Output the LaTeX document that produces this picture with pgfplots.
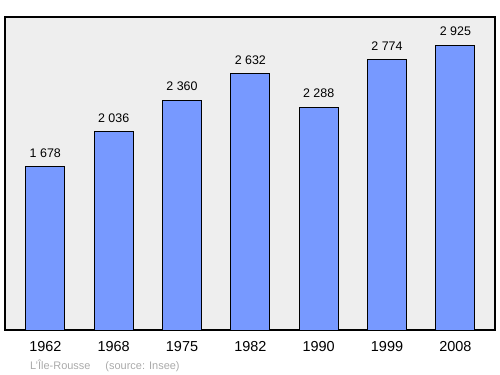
\documentclass[border=0pt]{standalone}
\usepackage{pgfplots}
\pgfplotsset{compat=1.18}
\usepackage{fontspec}
\setmainfont{Liberation Sans}
\definecolor{barblue}{HTML}{7799FF}
\definecolor{bgray}{HTML}{EEEEEE}
\definecolor{srcgray}{HTML}{AAAAAA}
\pgfplotstableread{
x val lab
0 1678 {1 678}
1 2036 {2 036}
2 2360 {2 360}
3 2632 {2 632}
4 2288 {2 288}
5 2774 {2 774}
6 2925 {2 925}
}\datatable
\begin{document}
\begin{tikzpicture}[x=1bp,y=1bp]
\useasboundingbox (0,0) rectangle (500,374);
\begin{axis}[
  at={(5bp,44bp)}, anchor=south west,
  scale only axis, width=490bp, height=313bp,
  xmin=-0.59, xmax=6.58, ymin=0, ymax=3213,
  axis background/.style={fill=bgray},
  axis line style={line width=1.3bp, black},
  xtick={0,1,2,3,4,5,6},
  xticklabels={1962,1968,1975,1982,1990,1999,2008},
  xticklabel style={font=\fontsize{14.5}{16}\selectfont, yshift=-8bp},
  major tick length=0pt,
  ytick=\empty,
  ybar, bar width=0.57,
  nodes near coords,
  point meta=explicit symbolic,
  nodes near coords style={font=\fontsize{12.5}{14}\selectfont, yshift=5.5bp},
  clip=false,
]
\addplot[fill=barblue, draw=black, line width=0.9bp] table[x=x, y=val, meta=lab] {\datatable};
\end{axis}
\node[anchor=base west, text=srcgray, font=\fontsize{11}{13}\selectfont, inner sep=0pt] at (30,5) {L'Île-Rousse\hspace{15bp}(source: Insee)};
\end{tikzpicture}
\end{document}
